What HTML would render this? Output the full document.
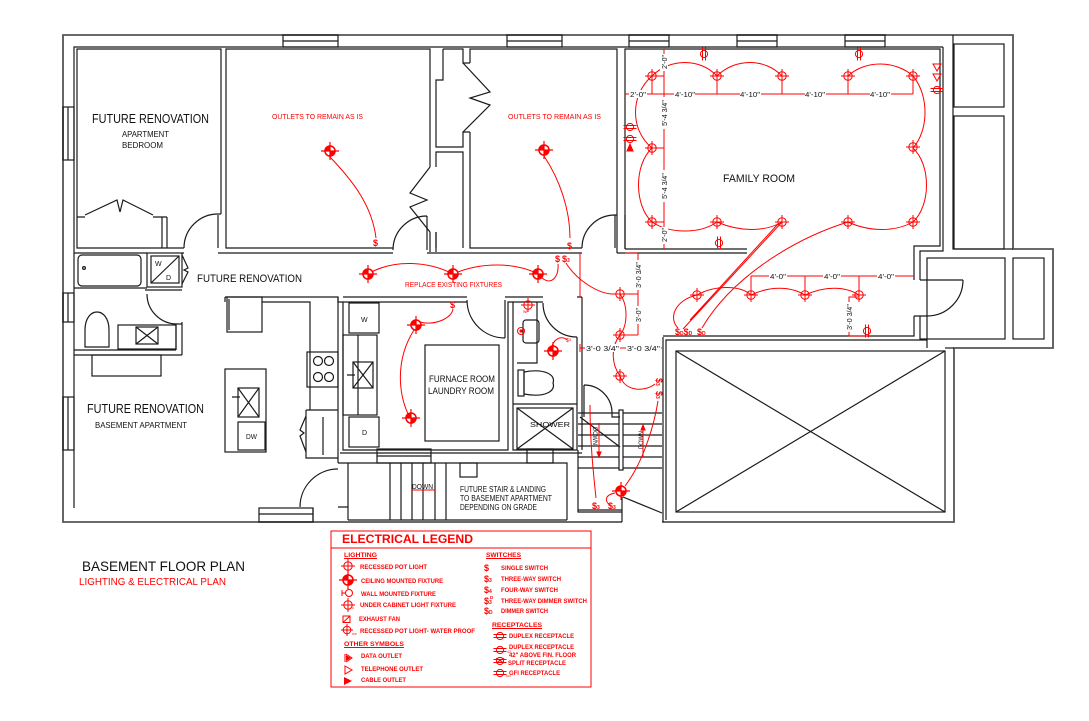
<!DOCTYPE html>
<html><head><meta charset="utf-8"><style>
html,body{margin:0;padding:0;background:#fff;}
svg{display:block;}
text{font-family:"Liberation Sans",sans-serif;}
</style></head><body>
<svg xmlns="http://www.w3.org/2000/svg" width="1089" height="721" viewBox="0 0 1089 721">
<defs>
<g id="pot" fill="none" stroke="#f00" stroke-width="1"><circle r="4.2"/><path d="M-7,0H7M0,-7V7"/></g>
<g id="cf"><circle r="5.8" fill="#f00"/><path d="M0,0V-4.3A4.3,4.3 0 0 1 4.3,0Z M0,0V4.3A4.3,4.3 0 0 1 -4.3,0Z" fill="#fff"/><path d="M-9,0H9M0,-9V9" stroke="#f00" stroke-width="1.2"/></g>
<g id="recV" fill="none" stroke="#f00" stroke-width="1"><circle r="3.6"/><path d="M-1.5,-6.5V6.5M1.5,-6.5V6.5"/></g>
<g id="recH" fill="none" stroke="#f00" stroke-width="1"><circle r="3.6"/><path d="M-6.5,-1.5H6.5M-6.5,1.5H6.5"/></g>
</defs>
<rect width="1089" height="721" fill="#fff"/>

<!-- ============ BLACK STRUCTURE ============ -->
<g fill="none" stroke="#1a1a1a" stroke-width="1.2">
<path stroke="#555" stroke-width="1.8" d="M622,522 H63 V35 H1013 V249 H1053 V348 H954 V522 H662"/>
<path d="M74,508 V47 H943"/>
<!-- top windows -->
<rect x="283" y="35" width="55" height="12"/><path d="M283,41H338"/>
<rect x="507" y="35" width="55" height="12"/><path d="M507,41H562"/>
<rect x="629" y="35" width="40" height="12"/><path d="M629,41H669"/>
<rect x="737" y="35" width="40" height="12"/><path d="M737,41H777"/>
<rect x="845" y="35" width="40" height="12"/><path d="M845,41H885"/>
<!-- left windows -->
<rect x="63" y="107" width="11" height="53"/><path d="M68,107V160"/>
<rect x="63" y="293" width="11" height="29"/><path d="M68,293V322"/>
<rect x="63" y="397" width="11" height="53"/><path d="M68,397V450"/>
<!-- bottom window -->
<rect x="259" y="508" width="54" height="14"/><path d="M259,514H313"/>

<!-- Room 1 bedroom -->
<path d="M184,248 H77 V49 H221 V214"/>
<path d="M218,215 V248 M221,214 H218"/>
<path d="M184,248 A34,34 0 0 1 218,214"/>
<path d="M77,217 H85 M85,215 L117,200 L120,212 L123,200 L153,215 M153,217 H162 V248 M167,217 V248 M162,217 H167"/>
<!-- Room 2 -->
<path d="M393,248 H226 V49 H430 V167"/>
<path d="M430,167 L410,193 L427,200 L410,207 L430,232 M430,232 V252 M436,232 V252"/>
<path d="M393,250 A34,34 0 0 1 427,216 M427,216 V250"/>
<!-- closets -->
<path d="M443,49 V80 H436 V147 H463 V132 H470 M443,49 H463 V63 H470"/>
<path d="M463,63 L490,92 L470,98 L490,105 L463,132"/>
<path d="M436,167 V152 H463 V248 M436,232 V248"/>
<!-- Room 3 -->
<path d="M470,63 V49 H617 V215 M470,132 V248 H582"/>
<path d="M582,248 A33,33 0 0 1 615,215 M615,215 V248 M617,215 H615"/>
<!-- hall top line -->
<path d="M74,253 H147 M182,253 H184 M218,253 H393 M427,253 H582 M617,253 H747"/>
<!-- family room -->
<path d="M625,249 V49 H940 V246 H914 V280 M625,249 H747"/>
<path d="M943,47 V251 H920 V280 M914,316 V336 H663 M920,316 V339 H927 V348"/>
<path d="M920,280 H963 M963,280 A36,36 0 0 1 927,316 M914,316 H927"/>
<path d="M617,215 V253 M625,215 V249"/>
<!-- exterior right boxes -->
<path d="M953,35 V249 H1013"/>
<rect x="954" y="44" width="50" height="63"/>
<rect x="954" y="116" width="50" height="133"/>
<rect x="927" y="258" width="78" height="81"/>
<rect x="1013" y="258" width="31" height="81"/>
<path d="M945,348 H954"/>
<!-- X box -->
<path d="M663,337 V522 M666,520 V340 H927"/>
<rect x="676" y="351" width="269" height="161"/>
<path d="M676,351 L945,512 M945,351 L676,512"/>

<!-- left bathroom -->
<rect x="147" y="253" width="35" height="34"/>
<rect x="151" y="256" width="28" height="27"/>
<path d="M179,256 L151,283"/>
<path d="M182,255 L188,268 L184,270 L188,272 L182,284"/>
<rect x="78" y="255" width="63" height="31" rx="4"/>
<circle cx="84" cy="268" r="1.4"/>
<path d="M74,288 H147 M145,290 H182"/>
<path d="M147,294 A30,30 0 0 0 177,324 M176,324 H182 M176,324 V350 M182,322 V355"/>
<rect x="118" y="325" width="58" height="24"/>
<rect x="136" y="327" width="22" height="17"/>
<path d="M136,327 L158,344 M158,327 L136,344"/>
<path d="M85,347 V330 C85,306 109,306 109,330 V347 Z"/>
<path d="M74,350 H176 M74,355 H182"/>
<rect x="92" y="355" width="69" height="21"/>

<!-- kitchen -->
<path d="M225,297 H338 V463 M225,297 V302"/>
<rect x="227" y="297" width="35" height="35"/>
<path d="M229,299 V330"/>
<path d="M262,302 H310 V410"/>
<rect x="307" y="352" width="31" height="35"/>
<circle cx="318" cy="361" r="4.5"/><circle cx="329" cy="361" r="4.5"/>
<circle cx="318" cy="377" r="4.5"/><circle cx="329" cy="377" r="4.5"/>
<rect x="225" y="369" width="41" height="83"/>
<rect x="238" y="388" width="21" height="29"/>
<path d="M238,388 L259,417 M259,388 L238,417 M232,397 H240"/>
<rect x="238" y="422" width="27" height="28"/>
<path d="M306,410 H338 M306,410 V458 H338 M323,417 V455"/>
<path d="M306,416 L300,430 L304,433 L300,436 L306,452"/>
<path d="M300,507 A38,38 0 0 1 338,469"/>
<path d="M313,508 V522 M338,507 H348"/>

<!-- laundry -->
<path d="M343,297 H467 M505,297 H543 M577,297 H582"/>
<path d="M467,302 H343 V450 H508 V302 H513"/>
<path d="M338,297 V302 H343"/>
<path d="M467,300 A38,38 0 0 0 505,338 M505,300 V338"/>
<rect x="349" y="303" width="30" height="30"/>
<rect x="343" y="335" width="34" height="80"/>
<path d="M358,335 V415"/>
<rect x="353" y="362" width="20" height="26"/>
<path d="M353,362 L373,388 M373,362 L353,388 M347,375 H355"/>
<rect x="349" y="417" width="30" height="30"/>
<rect x="425" y="345" width="74" height="96"/>
<!-- bath 2 -->
<path d="M543,302 H513 V450 H577 V337"/>
<path d="M543,303 A34,34 0 0 0 577,337"/>
<path d="M582,297 V450"/>
<path d="M517,363 H537 V302"/>
<rect x="523" y="320" width="16" height="23" rx="3"/>
<rect x="518" y="370" width="6" height="26"/>
<path d="M524,372 C545,368 556,375 553,383 C556,391 545,398 524,394 Z"/>
<path d="M513,404 H577"/>
<rect x="517" y="408" width="56" height="41"/>
<path d="M517,408 L573,449 M573,408 L517,449"/>
<!-- walls between laundry and lower stair -->
<path d="M340,453 H582 M338,463 H567 V520 M348,463 V520"/>
<rect x="377" y="449" width="54" height="14"/><path d="M377,456 H431"/>
<rect x="527" y="449" width="26" height="14"/>
<path d="M390,463V520 M401,463V520 M412,463V520 M423,463V520 M435,463V520 M446,463V520"/>
<rect x="460" y="463" width="17" height="14"/>
<path d="M348,520 H567"/>

<!-- stairs right -->
<path d="M578,450 V512 H622 M578,510 H622"/>
<path d="M584,417 V385 M584,385 A28,28 0 0 1 612,413 M612,413 V417 H620"/>
<path d="M578,413H619 M623,413H662 M578,424H619 M623,424H662 M578,435H619 M623,435H662 M578,446H619 M623,446H662 M578,457H619 M623,457H662 M578,468H619 M623,468H662"/>
<rect x="619" y="410" width="4" height="60"/>
<path d="M580,417 L620,447"/>
<path d="M622,497 V522 M623,497 L662,513"/>
</g>

<!-- ============ BLACK TEXT ============ -->
<g fill="#111">
<text x="92" y="123" font-size="12.5" textLength="117" lengthAdjust="spacingAndGlyphs">FUTURE RENOVATION</text>
<text x="122" y="137" font-size="8.5" textLength="47" lengthAdjust="spacingAndGlyphs">APARTMENT</text>
<text x="122" y="148" font-size="8.5" textLength="41" lengthAdjust="spacingAndGlyphs">BEDROOM</text>
<text x="197" y="282" font-size="11" textLength="105" lengthAdjust="spacingAndGlyphs">FUTURE RENOVATION</text>
<text x="87" y="413" font-size="12.5" textLength="117" lengthAdjust="spacingAndGlyphs">FUTURE RENOVATION</text>
<text x="95" y="428" font-size="8" textLength="92" lengthAdjust="spacingAndGlyphs">BASEMENT APARTMENT</text>
<text x="246" y="439" font-size="7" textLength="11" lengthAdjust="spacingAndGlyphs">DW</text>
<text x="155" y="266" font-size="7">W</text>
<text x="166" y="280" font-size="7">D</text>
<text x="361" y="322" font-size="7">W</text>
<text x="362" y="435" font-size="7">D</text>
<text x="429" y="382" font-size="9.5" textLength="66" lengthAdjust="spacingAndGlyphs">FURNACE ROOM</text>
<text x="428" y="394" font-size="9.5" textLength="66" lengthAdjust="spacingAndGlyphs">LAUNDRY ROOM</text>
<text x="530" y="427" font-size="7" textLength="40" lengthAdjust="spacingAndGlyphs">SHOWER</text>
<text x="723" y="182" font-size="11" textLength="72" lengthAdjust="spacingAndGlyphs">FAMILY ROOM</text>
<text x="412" y="489" font-size="7" textLength="21" lengthAdjust="spacingAndGlyphs">DOWN</text>
<text x="460" y="492" font-size="8" textLength="86" lengthAdjust="spacingAndGlyphs">FUTURE STAIR &amp; LANDING</text>
<text x="460" y="501" font-size="8" textLength="92" lengthAdjust="spacingAndGlyphs">TO BASEMENT APARTMENT</text>
<text x="460" y="510" font-size="8" textLength="77" lengthAdjust="spacingAndGlyphs">DEPENDING ON GRADE</text>
<text transform="translate(593,427) rotate(90)" font-size="6.5" textLength="18" lengthAdjust="spacingAndGlyphs">DOWN</text>
<text transform="translate(643,449) rotate(-90)" font-size="6.5" textLength="18" lengthAdjust="spacingAndGlyphs">DOWN</text>
<text x="82" y="571" font-size="14" textLength="163" lengthAdjust="spacingAndGlyphs">BASEMENT FLOOR PLAN</text>
</g>

<!-- ============ RED ELEMENTS ============ -->
<g fill="none" stroke="#f00" stroke-width="1">
<!-- room 2/3 -->
<path d="M330,157 C352,180 372,205 376,238"/>
<path d="M544,156 C560,180 570,210 570,238"/>
<!-- hall -->
<path d="M368,274 C395,258 430,262 453,274 M453,274 C480,262 515,262 538,274 M542,278 C552,286 559,276 558,264"/>
<path d="M566,263 C578,282 600,294 613,294"/>
<path d="M580,253 V297"/>
<!-- stairs/hall dims -->
<path d="M638,253 V335 M620,294 H638 M620,335 H638 M625,253 H638"/>
<path d="M620,294 C628,305 628,325 620,335 M620,335 C610,348 612,365 620,376 M620,376 C625,392 645,392 655,384"/>
<path d="M580,344 V352 M580,348 H662"/>
<path d="M625,486 C645,460 655,420 658,401 M615,493 C604,495 605,502 610,505"/>
<path d="M596,498 C593,470 590,440 590,405"/>
<path d="M599,423 V457 M643,425 V457 M412,490 H435"/>
<path d="M599,457 l-2,-5 h4 z M643,425 l-2,5 h4 z" fill="#f00"/>
<!-- laundry -->
<path d="M420,322 C435,326 452,318 453,309 M414,330 C395,360 398,395 410,418"/>
<!-- bath2 -->
<path d="M552,346 C555,337 563,336 567,340"/>
<!-- family -->
<path d="M652,76 C670,58 700,58 717,76 M717,76 C735,58 765,58 782,76 M848,76 C865,60 895,60 913,76"/>
<path d="M652,76 C630,95 630,130 652,148 M652,148 C634,165 634,205 652,222"/>
<path d="M913,76 C929,95 929,130 913,148 M913,148 C931,165 931,205 913,222"/>
<path d="M652,222 C670,234 700,234 717,222 M717,222 C740,232 765,232 782,222 M848,222 C870,232 895,232 913,222"/>
<path d="M782,222 L683,329 M778,224 L690,320"/>
<path d="M848,222 C790,240 730,280 702,328"/>
<path d="M697,295 C675,300 668,318 678,328"/>
<path d="M697,295 C715,285 740,285 751,295 M751,295 C770,286 790,286 805,295 M805,295 C825,286 845,286 859,295"/>
<path d="M625,94 H913 M652,76 V94 M717,76 V94 M782,76 V94 M848,76 V94 M913,76 V94"/>
<path d="M664,49 V249 M652,76 H664 M652,148 H664 M652,222 H664"/>
<path d="M751,276 H914 M751,276 V295 M805,276 V295 M859,276 V295"/>
<path d="M859,297 H849 V336 H869"/>
<path d="M630,148 m-3,3 l3,-7 l3,7 z" fill="#f00"/>
<path d="M933,64 l8,0 l-4,7 z M933,74 l8,0 l-4,7 z"/>
</g>

<!-- white gaps behind dim text -->
<g fill="#fff">
<rect x="629" y="90" width="18" height="8"/>
<rect x="674" y="90" width="21" height="8"/><rect x="740" y="90" width="21" height="8"/>
<rect x="805" y="90" width="21" height="8"/><rect x="870" y="90" width="21" height="8"/>
<rect x="660" y="54" width="8" height="17"/><rect x="660" y="97" width="8" height="32"/>
<rect x="660" y="170" width="8" height="32"/><rect x="660" y="227" width="8" height="17"/>
<rect x="769" y="272" width="18" height="8"/><rect x="823" y="272" width="18" height="8"/><rect x="877" y="272" width="18" height="8"/>
<rect x="634" y="260" width="8" height="30"/><rect x="634" y="306" width="8" height="18"/>
<rect x="845" y="302" width="8" height="30"/>
<rect x="585" y="344" width="35" height="8"/><rect x="626" y="344" width="35" height="8"/>
</g>
<g fill="#111" font-size="7">
<text x="630" y="97" textLength="16" lengthAdjust="spacingAndGlyphs">2'-0"</text>
<text x="675" y="97" textLength="20" lengthAdjust="spacingAndGlyphs">4'-10"</text>
<text x="740" y="97" textLength="20" lengthAdjust="spacingAndGlyphs">4'-10"</text>
<text x="805" y="97" textLength="20" lengthAdjust="spacingAndGlyphs">4'-10"</text>
<text x="870" y="97" textLength="20" lengthAdjust="spacingAndGlyphs">4'-10"</text>
<text transform="translate(667,62) rotate(-90)" text-anchor="middle">2'-0"</text>
<text transform="translate(667,113) rotate(-90)" text-anchor="middle">5'-4 3/4"</text>
<text transform="translate(667,186) rotate(-90)" text-anchor="middle">5'-4 3/4"</text>
<text transform="translate(667,235) rotate(-90)" text-anchor="middle">2'-0"</text>
<text x="770" y="279" textLength="16" lengthAdjust="spacingAndGlyphs">4'-0"</text>
<text x="824" y="279" textLength="16" lengthAdjust="spacingAndGlyphs">4'-0"</text>
<text x="878" y="279" textLength="16" lengthAdjust="spacingAndGlyphs">4'-0"</text>
<text transform="translate(641,275) rotate(-90)" text-anchor="middle">3'-0 3/4"</text>
<text transform="translate(641,315) rotate(-90)" text-anchor="middle">3'-0"</text>
<text transform="translate(852,317) rotate(-90)" text-anchor="middle">3'-0 3/4"</text>
<text x="586" y="351" textLength="33" lengthAdjust="spacingAndGlyphs">3'-0 3/4"</text>
<text x="627" y="351" textLength="33" lengthAdjust="spacingAndGlyphs">3'-0 3/4"</text>
</g>

<!-- fixtures -->
<use href="#cf" x="330" y="151"/>
<use href="#cf" x="544" y="150"/>
<use href="#cf" x="368" y="274"/>
<use href="#cf" x="453" y="274"/>
<use href="#cf" x="538" y="274"/>
<use href="#cf" x="416" y="325"/>
<use href="#cf" x="411" y="418"/>
<use href="#cf" x="553" y="351"/>
<use href="#cf" x="621" y="491"/>
<use href="#pot" x="620" y="294"/>
<use href="#pot" x="620" y="335"/>
<use href="#pot" x="620" y="376"/>
<use href="#pot" x="652" y="76"/><use href="#pot" x="717" y="76"/><use href="#pot" x="782" y="76"/>
<use href="#pot" x="848" y="76"/><use href="#pot" x="913" y="76"/>
<use href="#pot" x="652" y="148"/><use href="#pot" x="913" y="147"/>
<use href="#pot" x="652" y="222"/><use href="#pot" x="717" y="222"/><use href="#pot" x="782" y="222"/>
<use href="#pot" x="848" y="222"/><use href="#pot" x="913" y="222"/>
<use href="#pot" x="697" y="295"/><use href="#pot" x="751" y="295"/>
<use href="#pot" x="805" y="295"/><use href="#pot" x="859" y="295"/>
<use href="#pot" x="528" y="305"/>
<use href="#recV" x="704" y="54"/>
<use href="#recV" x="859" y="54"/>
<use href="#recV" x="719" y="243"/>
<use href="#recV" x="867" y="331"/>
<use href="#recH" x="630" y="127"/>
<use href="#recH" x="630" y="139"/>
<use href="#recH" x="937" y="90"/>
<circle cx="521" cy="331" r="3.5" fill="none" stroke="#f00"/><circle cx="521" cy="331" r="1.6" fill="#f00"/>

<!-- red labels -->
<g fill="#f00">
<text x="272" y="119" font-size="7.5" textLength="91" lengthAdjust="spacingAndGlyphs">OUTLETS TO REMAIN AS IS</text>
<text x="508" y="119" font-size="7.5" textLength="93" lengthAdjust="spacingAndGlyphs">OUTLETS TO REMAIN AS IS</text>
<text x="405" y="287" font-size="7" textLength="97" lengthAdjust="spacingAndGlyphs">REPLACE EXISTING FIXTURES</text>
<g font-size="9" font-weight="bold">
<text x="373" y="246">$</text>
<text x="567" y="249">$</text>
<text x="555" y="262">$</text><text x="562" y="262">$<tspan font-size="5">3</tspan></text>
<text x="450" y="308">$</text>
<text x="675" y="335">$<tspan font-size="5">D</tspan>$<tspan font-size="5">D</tspan></text>
<text x="697" y="335">$<tspan font-size="5">D</tspan></text>
<text x="592" y="509">$<tspan font-size="5">3</tspan></text>
<text x="608" y="509">$<tspan font-size="5">3</tspan></text>
<text transform="translate(656,378) rotate(90)">$<tspan font-size="5">3</tspan></text>
<text transform="translate(656,391) rotate(90)">$<tspan font-size="5">3</tspan></text>
</g>
<text x="566" y="342" font-size="5">$ᴳ</text>
<text x="523" y="313" font-size="3.5">WP</text>
<text x="79" y="585" font-size="10" textLength="147" lengthAdjust="spacingAndGlyphs">LIGHTING &amp; ELECTRICAL PLAN</text>
</g>

<!-- ============ LEGEND ============ -->
<g fill="none" stroke="#f00" stroke-width="1">
<rect x="331" y="531" width="260" height="156"/>
<path d="M331,548 H591"/>
<path d="M344,558.5 H377 M344,647.5 H404 M486,558.5 H521 M492,628.5 H542"/>
</g>
<g fill="#f00">
<text x="342" y="543" font-size="12" font-weight="bold" textLength="131" lengthAdjust="spacingAndGlyphs">ELECTRICAL LEGEND</text>
<g font-size="6.5" font-weight="bold">
<text x="344" y="557" textLength="33" lengthAdjust="spacingAndGlyphs">LIGHTING</text>
<text x="360" y="569" textLength="67" lengthAdjust="spacingAndGlyphs">RECESSED POT LIGHT</text>
<text x="361" y="583" textLength="82" lengthAdjust="spacingAndGlyphs">CEILING MOUNTED FIXTURE</text>
<text x="361" y="596" textLength="75" lengthAdjust="spacingAndGlyphs">WALL MOUNTED FIXTURE</text>
<text x="360" y="607" textLength="96" lengthAdjust="spacingAndGlyphs">UNDER CABINET LIGHT FIXTURE</text>
<text x="359" y="621" textLength="41" lengthAdjust="spacingAndGlyphs">EXHAUST FAN</text>
<text x="360" y="633" textLength="115" lengthAdjust="spacingAndGlyphs">RECESSED POT LIGHT- WATER PROOF</text>
<text x="344" y="646" textLength="60" lengthAdjust="spacingAndGlyphs">OTHER SYMBOLS</text>
<text x="361" y="658" textLength="41" lengthAdjust="spacingAndGlyphs">DATA OUTLET</text>
<text x="361" y="671" textLength="62" lengthAdjust="spacingAndGlyphs">TELEPHONE OUTLET</text>
<text x="361" y="682" textLength="45" lengthAdjust="spacingAndGlyphs">CABLE OUTLET</text>
<text x="486" y="557" textLength="35" lengthAdjust="spacingAndGlyphs">SWITCHES</text>
<text x="501" y="570" textLength="47" lengthAdjust="spacingAndGlyphs">SINGLE SWITCH</text>
<text x="501" y="581" textLength="60" lengthAdjust="spacingAndGlyphs">THREE-WAY SWITCH</text>
<text x="501" y="592" textLength="57" lengthAdjust="spacingAndGlyphs">FOUR-WAY SWITCH</text>
<text x="501" y="603" textLength="86" lengthAdjust="spacingAndGlyphs">THREE-WAY DIMMER SWITCH</text>
<text x="501" y="613" textLength="47" lengthAdjust="spacingAndGlyphs">DIMMER SWITCH</text>
<text x="492" y="627" textLength="50" lengthAdjust="spacingAndGlyphs">RECEPTACLES</text>
<text x="509" y="638" textLength="65" lengthAdjust="spacingAndGlyphs">DUPLEX RECEPTACLE</text>
<text x="509" y="649" textLength="65" lengthAdjust="spacingAndGlyphs">DUPLEX RECEPTACLE</text>
<text x="509" y="657" textLength="67" lengthAdjust="spacingAndGlyphs">42" ABOVE FIN. FLOOR</text>
<text x="508" y="665" textLength="58" lengthAdjust="spacingAndGlyphs">SPLIT RECEPTACLE</text>
<text x="509" y="675" textLength="51" lengthAdjust="spacingAndGlyphs">GFI RECEPTACLE</text>
</g>
<g font-size="9" font-weight="bold">
<text x="484" y="571">$</text>
<text x="484" y="582">$<tspan font-size="5">3</tspan></text>
<text x="484" y="593">$<tspan font-size="5">4</tspan></text>
<text x="484" y="604">$<tspan font-size="5">3</tspan></text>
<text x="490" y="599" font-size="4.5">D</text>
<text x="484" y="614">$<tspan font-size="5">D</tspan></text>
</g>
<text x="352" y="635" font-size="3">WP</text>
<text x="352" y="609" font-size="3.5">u</text>
<text x="507" y="653" font-size="3.5">42</text>
<text x="506" y="677" font-size="3">GFI</text>
</g>
<use href="#pot" x="348" y="566"/>
<use href="#cf" x="348" y="580"/>
<g fill="none" stroke="#f00" stroke-width="1">
<circle cx="349" cy="593" r="3.5"/><path d="M342,593 H345.5 M342,590 V596"/>
<circle cx="347" cy="630" r="3.8"/><path d="M341,630 H353 M347,624 V636"/>
<rect x="343" y="616" width="7" height="6.5"/><path d="M343,622.5 L350,616"/>
<path d="M345,654 V662 M346,654 l6,4 l-6,4"/>
<path d="M345,666 l7,4 l-7,4 z"/>
<path d="M496,663 l8,-5 M496,658 l8,5"/>
</g>
<use href="#pot" x="348" y="605"/>
<path d="M344,677 l8,4 l-8,4 z" fill="#f00"/>
<path d="M346,655 l5,3 l-5,3 z" fill="#f00"/>
<use href="#recH" x="500" y="636"/>
<use href="#recH" x="500" y="650"/>
<use href="#recH" x="500" y="661"/>
<use href="#recH" x="500" y="673"/>
</svg>
</body></html>
